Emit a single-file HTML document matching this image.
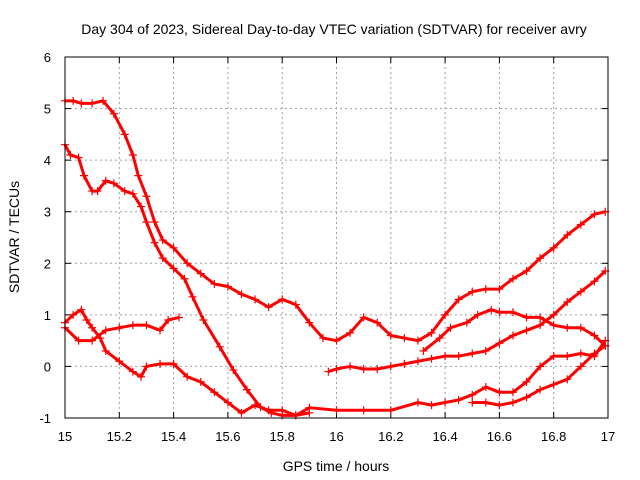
<!DOCTYPE html>
<html><head><meta charset="utf-8"><style>
body{margin:0;background:#fff}
svg{display:block;font-family:"Liberation Sans",sans-serif}
</style></head><body>
<svg id="c" width="640" height="480" xmlns="http://www.w3.org/2000/svg">
<text x="334" y="34" font-size="14" text-anchor="middle">Day 304 of 2023, Sidereal Day-to-day VTEC variation (SDTVAR) for receiver avry</text>
<text x="336" y="471" font-size="14" text-anchor="middle">GPS time / hours</text>
<text transform="translate(19,237) rotate(-90)" font-size="14" text-anchor="middle">SDTVAR / TECUs</text>
<g id="grid"></g><g id="ticks"></g><g id="series"></g>
<rect x="65" y="57" width="543" height="361" fill="none" stroke="#000" stroke-width="1"/>
</svg>
<script>
const xTicks=[15,15.2,15.4,15.6,15.8,16,16.2,16.4,16.6,16.8,17];
const xTickLabels=["15","15.2","15.4","15.6","15.8","16","16.2","16.4","16.6","16.8","17"];
const yTicks=[-1,0,1,2,3,4,5,6];
const trackAx=[15.0,15.03,15.06,15.1,15.14,15.18,15.22,15.25,15.27,15.3,15.33,15.36,15.4,15.45,15.5,15.55,15.6,15.65,15.7,15.75,15.8,15.85,15.9,15.95,16.0,16.05,16.1,16.15,16.2,16.25,16.3,16.35,16.4,16.45,16.5,16.55,16.6,16.65,16.7,16.75,16.8,16.85,16.9,16.95,16.99];
const trackAy=[5.15,5.15,5.1,5.1,5.15,4.9,4.5,4.1,3.7,3.3,2.8,2.45,2.3,2.0,1.8,1.6,1.55,1.4,1.3,1.15,1.3,1.2,0.85,0.55,0.5,0.65,0.95,0.85,0.6,0.55,0.5,0.65,1.0,1.3,1.45,1.5,1.5,1.7,1.85,2.1,2.3,2.55,2.75,2.95,3.0];
const trackBx=[15.0,15.02,15.05,15.07,15.1,15.12,15.15,15.18,15.22,15.25,15.28,15.3,15.33,15.36,15.4,15.44,15.47,15.51,15.57,15.62,15.67,15.72,15.76,15.8,15.85,15.9];
const trackBy=[4.3,4.1,4.05,3.7,3.4,3.4,3.6,3.55,3.4,3.35,3.1,2.8,2.4,2.1,1.9,1.7,1.35,0.9,0.38,-0.07,-0.45,-0.79,-0.9,-0.95,-0.95,-0.9];
const trackCx=[15.0,15.03,15.06,15.08,15.1,15.13,15.15,15.2,15.25,15.28,15.3,15.35,15.4,15.45,15.5,15.55,15.6,15.65,15.7,15.75,15.8,15.85,15.9,16.0,16.1,16.2,16.3,16.35,16.4,16.45,16.5,16.55,16.6,16.65,16.7,16.75,16.8,16.85,16.9,16.95,16.99];
const trackCy=[0.85,1.0,1.1,0.9,0.75,0.55,0.3,0.1,-0.1,-0.2,0.0,0.05,0.05,-0.2,-0.3,-0.5,-0.7,-0.9,-0.75,-0.85,-0.85,-0.95,-0.8,-0.85,-0.85,-0.85,-0.7,-0.75,-0.7,-0.65,-0.55,-0.4,-0.5,-0.5,-0.3,0.0,0.2,0.2,0.25,0.2,0.5];
const trackDx=[15.0,15.05,15.1,15.15,15.2,15.25,15.3,15.35,15.38,15.42];
const trackDy=[0.75,0.5,0.5,0.7,0.75,0.8,0.8,0.7,0.9,0.95];
const trackEx=[15.97,16.0,16.05,16.1,16.15,16.2,16.25,16.3,16.35,16.4,16.45,16.5,16.55,16.6,16.65,16.7,16.75,16.8,16.85,16.9,16.95,16.99];
const trackEy=[-0.1,-0.05,0.0,-0.05,-0.05,0.0,0.05,0.1,0.15,0.2,0.2,0.25,0.3,0.45,0.6,0.7,0.8,1.0,1.25,1.45,1.65,1.85];
const trackFx=[16.32,16.38,16.42,16.48,16.52,16.57,16.6,16.65,16.7,16.75,16.8,16.85,16.9,16.95,16.99];
const trackFy=[0.3,0.55,0.75,0.85,1.0,1.1,1.05,1.05,0.95,0.95,0.8,0.75,0.75,0.6,0.4];
const trackGx=[16.5,16.55,16.6,16.65,16.7,16.75,16.8,16.85,16.9,16.95,16.99];
const trackGy=[-0.7,-0.7,-0.75,-0.7,-0.6,-0.45,-0.35,-0.25,0.0,0.25,0.4];
const tracks=[[trackAx,trackAy],[trackBx,trackBy],[trackCx,trackCy],[trackDx,trackDy],[trackEx,trackEy],[trackFx,trackFy],[trackGx,trackGy]];
const NS="http://www.w3.org/2000/svg";
const X=v=>65+(v-15)/2*543, Y=v=>418-(v+1)/7*361;
function mk(t,a,p){const e=document.createElementNS(NS,t);for(const k in a)e.setAttribute(k,a[k]);p.appendChild(e);return e;}
const g=document.getElementById('grid'),tk=document.getElementById('ticks'),s=document.getElementById('series');
xTicks.forEach((v,i)=>{const x=X(v);
 if(i>0&&i<xTicks.length-1){const l=mk('line',{x1:x,x2:x,y1:57,y2:418,stroke:'#a0a0a0','stroke-dasharray':'2,3'},g);}
 mk('line',{x1:x,x2:x,y1:418,y2:412,stroke:'#000'},tk);mk('line',{x1:x,x2:x,y1:57,y2:63,stroke:'#000'},tk);
 const t=mk('text',{x:x,y:441,'font-size':13,'text-anchor':'middle'},tk);t.textContent=xTickLabels[i];
 });
yTicks.forEach((v,i)=>{const y=Y(v);
 if(i>0&&i<yTicks.length-1){const l=mk('line',{x1:65,x2:608,y1:y,y2:y,stroke:'#a0a0a0','stroke-dasharray':'2,3'},g);}
 mk('line',{x1:65,x2:71,y1:y,y2:y,stroke:'#000'},tk);mk('line',{x1:608,x2:602,y1:y,y2:y,stroke:'#000'},tk);
 const t=mk('text',{x:51,y:y+5,'font-size':13,'text-anchor':'end'},tk);t.textContent=String(v);
 });
tracks.forEach(([xs,ys])=>{
 const pts=xs.map((x,i)=>X(x)+','+Y(ys[i])).join(' ');
 const pl=mk('polyline',{points:pts,fill:'none',stroke:'#ff0000','stroke-width':3,'stroke-linejoin':'round'},s);
 
 
 xs.forEach((x,i)=>{const cx=X(x),cy=Y(ys[i]);
  const p=mk('path',{d:`M${cx-4},${cy}h8M${cx},${cy-4}v8`,stroke:'#ff0000','stroke-width':1.2},s);
  
  });
});
</script>
</body></html>
